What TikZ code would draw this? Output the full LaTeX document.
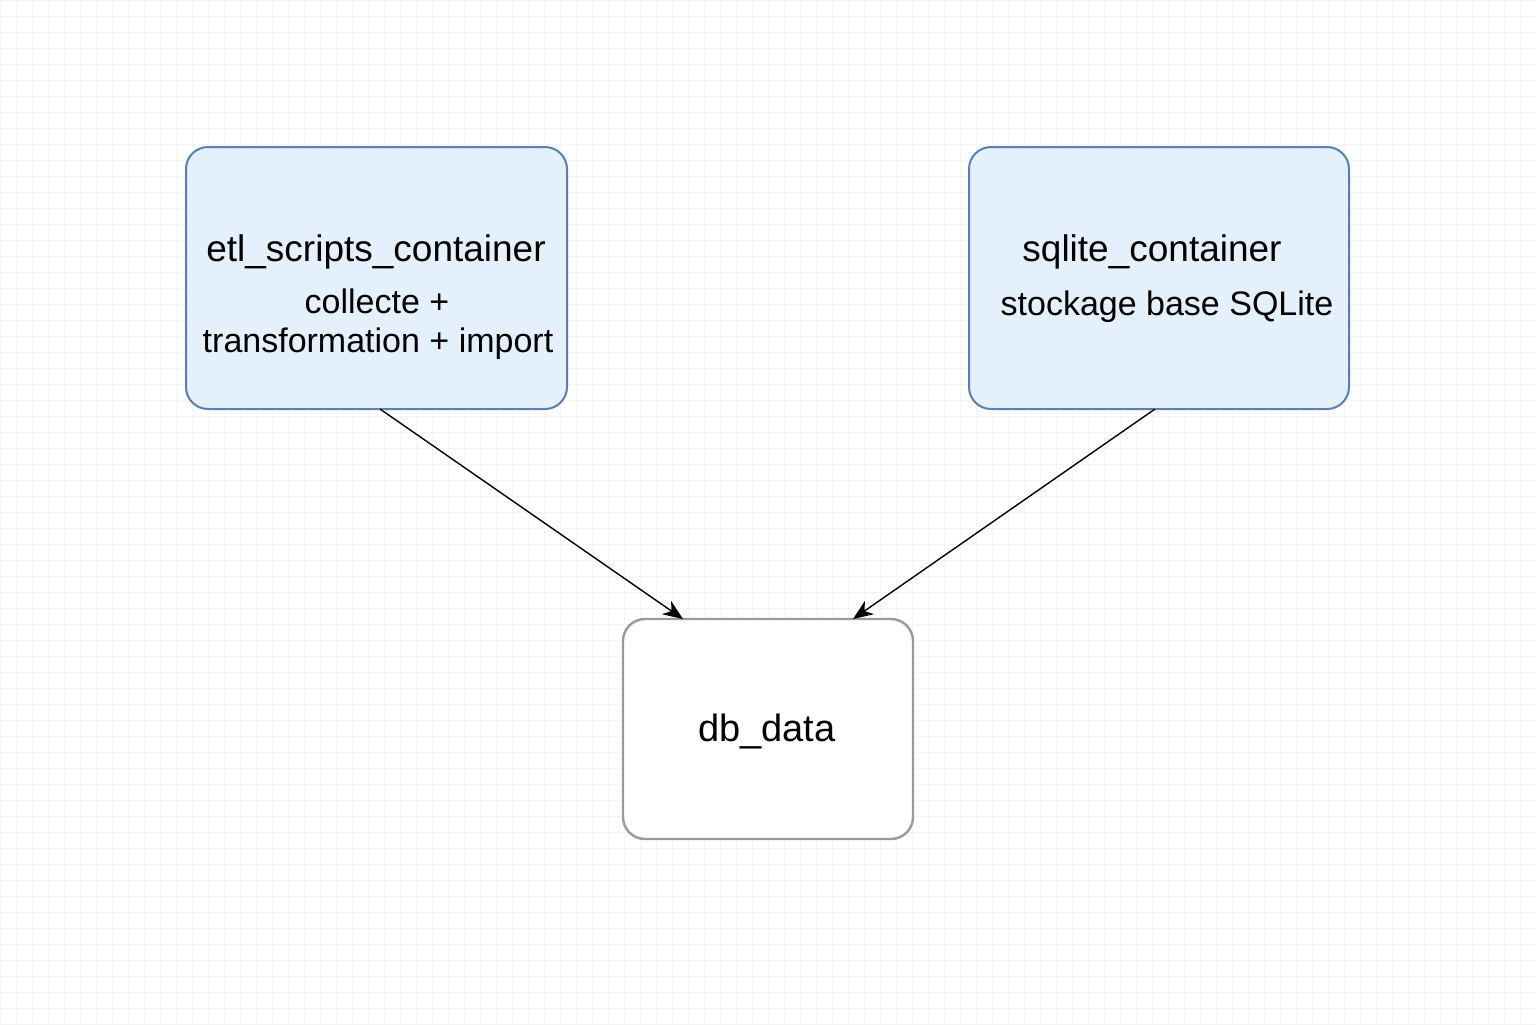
\documentclass[tikz,border=0pt]{standalone}
\usepackage{fontspec}
\setmainfont{Liberation Sans}
\usetikzlibrary{arrows.meta}
\definecolor{bluefill}{HTML}{E4F1FC}
\definecolor{blueline}{HTML}{5B7FB3}
\definecolor{grayline}{HTML}{9A9A9A}
\definecolor{gridcol}{HTML}{F5F5F5}
\begin{document}
\begin{tikzpicture}[x=0.5pt,y=-0.5pt,
  bluebox/.style={draw=blueline,fill=bluefill,line width=1pt,rounded corners=11pt,inner sep=0pt},
  graybox/.style={draw=grayline,fill=white,line width=1.2pt,rounded corners=11pt,inner sep=0pt},
  title/.style={font=\fontsize{18.5}{21}\selectfont,inner sep=0pt},
  sub/.style={font=\fontsize{17}{20}\selectfont,inner sep=0pt},
  conn/.style={draw=black,line width=0.7pt,-{Stealth[length=10pt,width=8pt,inset=3pt]}}]
\useasboundingbox (0,0) rectangle (1536,1024);
\fill[white] (0,0) rectangle (1536,1024);
\foreach \gx in {0,16,...,1536} \draw[gridcol,line width=0.4pt] (\gx,0) -- (\gx,1024);
\foreach \gy in {0,16,...,1024} \draw[gridcol,line width=0.4pt] (0,\gy) -- (1536,\gy);
\node[bluebox,minimum width=190.5pt,minimum height=131pt] (etl) at (376.5,278) {};
\node[bluebox,minimum width=190pt,minimum height=131pt] (sql) at (1159,278) {};
\node[graybox,minimum width=145pt,minimum height=110pt] (db) at (768,729) {};
\node[title] (etlt) at (376,252) {etl\_scripts\_container};
\node[sub] (etls1) at (377,301) {collecte +};
\node[sub] (etls2) at (378,344) {transformation + import};
\node[title] (sqlt) at (1152,252) {sqlite\_container};
\node[sub] (sqls) at (1167,307) {stockage base SQLite};
\node[title,font=\fontsize{19}{22}\selectfont] (dbt) at (767,731) {db\_data};
\coordinate (a1) at (683,619);
\coordinate (a2) at (853,619);
\coordinate (s1) at (380,409);
\coordinate (s2) at (1155,409);
\draw[conn] (s1) -- (a1);
\draw[conn] (s2) -- (a2);
\end{tikzpicture}
\end{document}
